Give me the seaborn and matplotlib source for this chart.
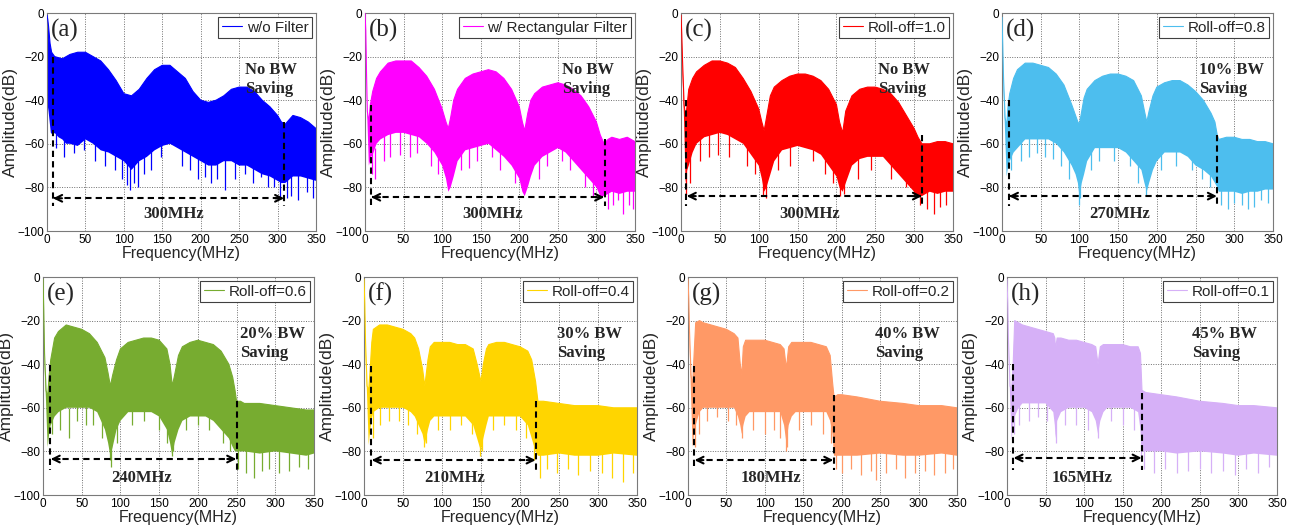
import numpy as np
import pandas as pd
import matplotlib
matplotlib.use("Agg")
import matplotlib.pyplot as plt
import seaborn as sns

# ---------------------------------------------------------------------------
# Spectrum envelopes (frequency in MHz, amplitude in dB)
# up_* : upper edge of the spectrum, lo_* : dense noise floor,
# sp_* : deep downward spikes below the floor
# ---------------------------------------------------------------------------
labels = ["w/o Filter", "w/ Rectangular Filter", "Roll-off=1.0", "Roll-off=0.8",
          "Roll-off=0.6", "Roll-off=0.4", "Roll-off=0.2", "Roll-off=0.1"]
panel_tags = ["(a)", "(b)", "(c)", "(d)", "(e)", "(f)", "(g)", "(h)"]
colors = ["#0000FF", "#FF00FF", "#FF0000", "#4DBEEE",
          "#77AC30", "#FFD500", "#FF9966", "#D6B0F7"]
bandwidths = ["300MHz", "300MHz", "300MHz", "270MHz", "240MHz", "210MHz", "180MHz", "165MHz"]
savings = ["No BW\nSaving", "No BW\nSaving", "No BW\nSaving", "10% BW\nSaving",
           "20% BW\nSaving", "30% BW\nSaving", "40% BW\nSaving", "45% BW\nSaving"]
band_start = [7.5, 7.5, 7.0, 8.5, 9.5, 9.5, 8.0, 8.0]
band_stop = [309, 310.5, 310.5, 278, 250, 220.5, 189.5, 175]
start_top = [-20, -42, -40, -40, -40.5, -41, -41, -40]
stop_top = [-50, -58, -56, -56, -57, -57, -54, -53]
arrow_level = [-85, -84.5, -84, -84, -83.5, -84, -84, -83]
bw_text_x = [165, 166, 166, 152, 127, 116, 108, 97]
saving_x = [258, 255, 253, 255, 254, 248, 243, 240]

# (a) no filter
a_up_f = [0, 1, 2, 4, 6, 8, 10, 20, 30, 40, 50, 60, 70, 80, 90, 100, 110, 120, 130, 140,
          150, 160, 170, 180, 190, 200, 210, 220, 230, 240, 250, 260, 270, 280, 290,
          300, 305, 310, 320, 330, 340, 350]
a_up_db = [-1, -3, -6, -14, -18, -19, -20, -21, -19, -18, -18, -20, -22, -26, -31, -37, -38, -35, -30, -26,
           -24, -24, -27, -30, -36, -40, -41, -40, -38, -35, -34, -34, -36, -40, -43,
           -47, -50, -51, -47, -48, -50, -53]
a_lo_f = [0, 2, 5, 8, 10, 15, 20, 25, 30, 40, 50, 60, 70, 80, 90, 100, 105, 110, 115, 120,
          130, 140, 150, 160, 170, 180, 190, 200, 210, 220, 230, 240, 250, 260, 270,
          280, 290, 300, 305, 310, 320, 330, 340, 350]
a_lo_db = [-40, -45, -55, -56, -55, -57, -58, -60, -60, -61, -58, -60, -63, -64, -66, -68, -70, -72, -70, -68,
           -66, -63, -61, -60, -62, -64, -66, -68, -70, -70, -68, -68, -70, -70, -72,
           -74, -75, -77, -78, -78, -75, -75, -76, -77]
a_sp_f = [12, 22, 35, 48, 62, 75, 88, 97, 104, 108, 113, 118, 126, 135, 148, 176, 186, 196,
          205, 214, 221, 232, 245, 258, 268, 278, 287, 296, 303, 312, 318, 327, 338, 346]
a_sp_db = [-62, -66, -64, -63, -68, -70, -72, -76, -79, -81, -78, -80, -74, -72, -66, -70, -72, -76,
           -75, -78, -76, -81, -76, -74, -78, -75, -80, -80, -85, -85, -84, -86, -82, -85]

# (b) rectangular filter
b_up_f = [0, 1, 2, 3, 5, 7, 10, 15, 20, 30, 40, 50, 60, 70, 80, 90, 100, 105, 108, 111,
          115, 120, 130, 140, 150, 160, 170, 180, 190, 200, 204, 207, 211, 215, 220,
          230, 240, 250, 260, 270, 280, 290, 300, 305, 310, 315, 320, 330, 340, 350]
b_up_db = [0, -8, -28, -45, -50, -42, -36, -30, -27, -23, -22, -22, -22, -25, -29, -35, -44, -50, -53, -48,
           -40, -35, -30, -28, -27, -26, -27, -30, -35, -43, -50, -54, -46, -40, -37,
           -34, -33, -32, -33, -35, -38, -43, -50, -56, -60, -58, -57, -58, -57, -59]
b_lo_f = [0, 1, 2, 3, 5, 8, 10, 15, 20, 30, 40, 50, 60, 70, 80, 90, 100, 105, 108, 111,
          115, 120, 130, 140, 150, 160, 170, 180, 190, 200, 204, 207, 211, 215, 220,
          230, 240, 250, 260, 270, 280, 290, 300, 305, 310, 320, 330, 340, 350]
b_lo_db = [-2, -12, -30, -48, -70, -66, -65, -60, -58, -56, -55, -55, -56, -57, -60, -64, -70, -76, -82, -80,
           -75, -68, -63, -62, -61, -60, -63, -66, -70, -76, -82, -84, -80, -75, -70,
           -66, -64, -62, -64, -68, -72, -76, -80, -84, -84, -82, -83, -82, -82]
b_sp_f = [9, 13, 25, 33, 45, 58, 67, 85, 95, 125, 135, 145, 165, 175, 195, 225, 236, 255,
          266, 285, 295, 315, 322, 328, 335, 342, 347]
b_sp_db = [-74, -76, -68, -66, -65, -66, -64, -70, -74, -72, -71, -68, -66, -72, -78, -76, -70, -68,
           -72, -80, -84, -90, -88, -86, -92, -88, -90]

# (c) roll-off 1.0
c_f = [0, 1, 2, 4, 6, 8, 10, 15, 20, 30, 40, 50, 60, 70, 80, 90, 100, 104, 107, 110,
       115, 120, 130, 140, 150, 160, 170, 180, 190, 200, 204, 208, 212, 220, 230,
       240, 250, 260, 270, 280, 290, 300, 305, 310, 320, 330, 340, 350]
c_up_db = [-1, -10, -22, -42, -48, -42, -35, -30, -27, -24, -22, -22, -23, -25, -30, -36, -44, -50, -54, -48,
           -38, -34, -31, -29, -28, -28, -29, -31, -35, -42, -50, -55, -45, -38, -35,
           -34, -34, -35, -37, -41, -47, -53, -57, -60, -60, -59, -59, -60]
c_lo_db = [-3, -14, -28, -50, -78, -72, -70, -64, -60, -57, -56, -55, -56, -58, -60, -65, -70, -76, -82, -80,
           -74, -68, -63, -62, -61, -62, -63, -65, -70, -75, -80, -82, -78, -70, -67,
           -66, -66, -66, -70, -74, -78, -82, -84, -84, -82, -83, -82, -82]
c_sp_f = [7, 12, 25, 36, 48, 62, 85, 95, 106, 109, 125, 140, 170, 185, 196, 205, 210, 228,
          245, 270, 290, 300, 308, 316, 325, 333, 341]
c_sp_db = [-84, -78, -68, -66, -65, -66, -70, -74, -84, -85, -72, -70, -68, -74, -78, -84, -83, -76,
           -72, -76, -80, -84, -88, -90, -92, -89, -88]

# (d) roll-off 0.8
d_f = [0, 1, 2, 4, 6, 8, 10, 15, 20, 30, 40, 50, 60, 70, 80, 90, 95, 98, 100, 103,
       106, 110, 120, 130, 140, 150, 160, 170, 180, 184, 187, 190, 195, 200, 210,
       220, 230, 240, 250, 260, 270, 275, 278, 280, 290, 300, 310, 320, 330, 340, 350]
d_up_db = [-2, -15, -30, -48, -52, -42, -37, -30, -26, -23, -23, -24, -25, -28, -33, -42, -47, -50, -51, -45,
           -39, -35, -31, -29, -28, -28, -29, -31, -38, -45, -50, -45, -38, -34, -32,
           -31, -31, -33, -36, -40, -46, -50, -56, -58, -57, -57, -58, -58, -59, -59, -60]
d_lo_db = [-4, -20, -35, -55, -75, -70, -68, -64, -62, -58, -58, -58, -58, -60, -64, -70, -74, -78, -84, -78,
           -74, -68, -62, -62, -62, -62, -64, -68, -72, -78, -82, -78, -72, -68, -64,
           -64, -64, -66, -70, -72, -75, -78, -80, -82, -82, -82, -83, -82, -82, -81, -81]
d_sp_f = [12, 24, 35, 45, 55, 66, 76, 86, 99, 101, 115, 125, 145, 165, 176, 186, 205, 225,
          245, 258, 268, 283, 292, 300, 310, 318, 326, 335, 344]
d_sp_db = [-72, -68, -66, -64, -66, -67, -70, -76, -88, -85, -72, -68, -68, -70, -78, -84, -72, -70,
           -72, -76, -80, -88, -90, -87, -88, -90, -89, -86, -87]

# (e) roll-off 0.6
e_f = [0, 1, 2, 4, 6, 8, 10, 15, 20, 30, 40, 50, 60, 70, 80, 84, 87, 90, 95, 100,
       110, 120, 130, 140, 150, 160, 164, 167, 170, 175, 180, 190, 200, 210, 220,
       230, 240, 245, 248, 250, 255, 260, 280, 300, 320, 340, 350]
e_up_db = [-1, -15, -35, -52, -55, -45, -38, -28, -25, -22, -23, -24, -26, -30, -37, -44, -50, -45, -38, -33,
           -30, -29, -28, -28, -29, -33, -40, -50, -45, -36, -32, -30, -29, -30, -31,
           -34, -40, -46, -52, -57, -57, -58, -58, -59, -60, -61, -61]
e_lo_db = [-3, -20, -40, -58, -78, -72, -68, -64, -62, -60, -60, -60, -60, -62, -70, -76, -82, -78, -70, -66,
           -62, -62, -62, -62, -64, -70, -76, -82, -76, -70, -66, -64, -64, -64, -66,
           -70, -74, -78, -80, -80, -80, -80, -81, -80, -81, -82, -81]
e_sp_f = [12, 22, 33, 44, 55, 65, 76, 86, 88, 95, 115, 130, 150, 160, 166, 168, 185, 200,
          215, 232, 242, 252, 262, 272, 283, 292, 305, 318, 330, 342]
e_sp_db = [-72, -70, -74, -66, -68, -68, -74, -84, -87, -76, -68, -66, -70, -76, -82, -80, -70, -68,
           -70, -76, -80, -88, -90, -92, -89, -88, -90, -89, -87, -88]

# (f) roll-off 0.4
f_f = [0, 1, 2, 4, 6, 8, 10, 12, 20, 30, 40, 50, 60, 65, 70, 75, 78, 82, 85, 90,
       100, 110, 120, 130, 140, 145, 150, 153, 157, 160, 170, 180, 190, 200, 210,
       215, 220, 223, 230, 250, 270, 300, 320, 350]
f_up_db = [-1, -12, -30, -50, -52, -42, -30, -24, -22, -22, -23, -24, -26, -28, -33, -42, -50, -38, -32, -30,
           -30, -30, -31, -31, -33, -40, -48, -40, -33, -31, -30, -30, -31, -32, -34,
           -38, -48, -57, -57, -58, -59, -59, -60, -60]
f_lo_db = [-3, -16, -36, -55, -77, -70, -65, -62, -60, -60, -60, -60, -62, -64, -68, -72, -77, -70, -66, -64,
           -64, -64, -64, -64, -68, -74, -80, -74, -68, -64, -64, -64, -64, -64, -68,
           -74, -80, -82, -82, -81, -82, -82, -81, -82]
f_sp_f = [12, 20, 32, 45, 56, 68, 77, 79, 95, 110, 125, 138, 149, 151, 165, 180, 195, 208,
          218, 226, 235, 248, 262, 275, 290, 305, 318, 332, 345]
f_sp_db = [-74, -68, -66, -66, -68, -72, -78, -76, -70, -70, -68, -72, -82, -80, -70, -68, -70, -74,
           -84, -92, -88, -90, -88, -91, -89, -90, -92, -94, -90]

# (g) roll-off 0.2
g_f = [0, 1, 2, 4, 6, 8, 10, 15, 20, 30, 40, 50, 60, 65, 68, 70, 72, 75, 80, 90,
       100, 110, 120, 125, 128, 131, 135, 140, 150, 160, 170, 180, 185, 188, 190,
       195, 200, 220, 250, 280, 300, 330, 350]
g_up_db = [-1, -10, -25, -45, -50, -35, -21, -20, -21, -22, -23, -24, -26, -28, -40, -45, -32, -29, -29, -29,
           -29, -30, -31, -33, -42, -32, -30, -30, -30, -30, -31, -32, -36, -48, -55,
           -54, -54, -55, -57, -58, -59, -59, -60]
g_lo_db = [-3, -14, -30, -55, -78, -72, -68, -62, -60, -60, -60, -60, -60, -64, -68, -72, -68, -64, -62, -62,
           -62, -62, -62, -68, -76, -68, -64, -62, -62, -62, -62, -62, -66, -72, -82,
           -82, -82, -82, -81, -82, -82, -81, -82]
g_sp_f = [9, 14, 25, 38, 52, 62, 70, 85, 100, 112, 120, 127, 129, 145, 160, 175, 186, 192,
          200, 212, 225, 238, 245, 258, 270, 282, 295, 308, 320, 334, 345]
g_sp_db = [-78, -72, -66, -64, -66, -68, -74, -70, -72, -70, -74, -80, -78, -70, -68, -72, -76, -88,
           -90, -88, -91, -89, -93, -90, -88, -92, -90, -89, -91, -90, -88]

# (h) roll-off 0.1
h_f = [0, 1, 2, 4, 6, 8, 10, 15, 20, 30, 40, 50, 60, 62, 63, 65, 70, 80, 90, 100,
       110, 115, 118, 121, 125, 130, 140, 150, 160, 170, 173, 175, 180, 200, 220,
       250, 280, 300, 320, 350]
h_up_db = [-1, -12, -30, -50, -52, -40, -20, -21, -22, -23, -24, -25, -26, -28, -33, -28, -28, -29, -29, -30,
           -31, -32, -40, -32, -31, -31, -31, -31, -32, -32, -35, -52, -53, -54, -55,
           -57, -58, -59, -59, -60]
h_lo_db = [-3, -16, -34, -55, -75, -68, -64, -60, -58, -58, -58, -58, -62, -68, -74, -66, -62, -60, -60, -60,
           -62, -66, -72, -66, -62, -60, -60, -60, -60, -62, -70, -80, -80, -80, -81,
           -80, -81, -82, -81, -82]
h_sp_f = [9, 16, 28, 40, 52, 63, 75, 90, 105, 118, 135, 150, 165, 174, 178, 190, 205, 220,
          235, 250, 265, 280, 295, 310, 325, 340]
h_sp_db = [-72, -68, -66, -64, -66, -76, -68, -68, -70, -74, -66, -68, -70, -82, -88, -90, -88, -90,
           -89, -88, -90, -89, -91, -88, -90, -87]

spectra = [
    (a_up_f, a_up_db, a_lo_f, a_lo_db, a_sp_f, a_sp_db),
    (b_up_f, b_up_db, b_lo_f, b_lo_db, b_sp_f, b_sp_db),
    (c_f, c_up_db, c_f, c_lo_db, c_sp_f, c_sp_db),
    (d_f, d_up_db, d_f, d_lo_db, d_sp_f, d_sp_db),
    (e_f, e_up_db, e_f, e_lo_db, e_sp_f, e_sp_db),
    (f_f, f_up_db, f_f, f_lo_db, f_sp_f, f_sp_db),
    (g_f, g_up_db, g_f, g_lo_db, g_sp_f, g_sp_db),
    (h_f, h_up_db, h_f, h_lo_db, h_sp_f, h_sp_db),
]

# ---------------------------------------------------------------------------
sns.set_theme(style="white")
plt.rcParams["font.family"] = ["Liberation Sans", "DejaVu Sans"]
SERIF = ["Liberation Serif", "DejaVu Serif"]

W, H = 1294, 525
fig = plt.figure(figsize=(W / 100, H / 100), dpi=100)

# axes boxes in pixels: (left, right, top, bottom)
boxes = [(47, 316, 13, 231), (365, 635, 13, 231), (681, 953, 13, 231), (1002, 1273, 13, 231),
         (43, 314, 277, 495), (364, 637, 277, 495), (688, 957, 277, 495), (1007, 1277, 277, 495)]

for i, (uf, ud, lf, ld, sf, sd) in enumerate(spectra):
    l, r, t, b = boxes[i]
    ax = fig.add_axes([l / W, 1 - b / H, (r - l) / W, (b - t) / H])
    col = colors[i]

    ax.set_axisbelow(True)
    ax.grid(True, which="major", linestyle=(0, (1, 1.5)), color="#6f6f6f", lw=0.7)

    # filled body of the spectrum between the top edge and the noise floor
    poly_x = np.r_[np.asarray(uf, float), np.asarray(lf, float)[::-1]]
    poly_y = np.r_[np.asarray(ud, float), np.asarray(ld, float)[::-1]]
    ax.fill(poly_x, poly_y, color=col, lw=0, zorder=2)
    ax.vlines(sf, np.asarray(sd, float), np.asarray(sd, float) + 14, color=col, lw=0.9, zorder=2)
    df = pd.DataFrame({"Frequency": uf, "Amplitude": ud})
    sns.lineplot(data=df, x="Frequency", y="Amplitude", ax=ax, color=col, lw=0.8,
                 estimator=None, sort=False, label=labels[i], zorder=3)

    ax.set_xlim(0, 350)
    ax.set_ylim(-100, 0)
    ax.set_xticks(np.arange(0, 351, 50))
    ax.set_yticks(np.arange(-100, 1, 20))
    for s in ax.spines.values():
        s.set_color("#7a7a7a")
        s.set_linewidth(0.8)
    ax.tick_params(axis="both", labelsize=8.5, direction="in", length=3,
                   color="#7a7a7a", pad=2, labelcolor="black")
    ax.set_xlabel("Frequency(MHz)", fontsize=11.5, labelpad=0)
    ax.set_ylabel("Amplitude(dB)", fontsize=12.5, labelpad=0)

    leg = ax.legend(loc="upper right", fontsize=11, frameon=True, fancybox=False,
                    framealpha=1, edgecolor="#404040", borderaxespad=0.25,
                    handlelength=1.3, handletextpad=0.3, borderpad=0.25)
    leg.get_frame().set_linewidth(0.8)

    # occupied-bandwidth markers
    x0, x1, ya = band_start[i], band_stop[i], arrow_level[i]
    ax.plot([x0, x0], [start_top[i], -88.5], color="black", lw=1.5, ls=(0, (3, 2)), zorder=4)
    ax.plot([x1, x1], [stop_top[i], -88.5], color="black", lw=1.5, ls=(0, (3, 2)), zorder=4)
    ax.plot([x0 + 2, x1 - 2], [ya, ya], color="black", lw=1.5, ls=(0, (3, 2)), zorder=4)
    ax.annotate("", xy=(x0 + 0.5, ya), xytext=(x0 + 12, ya),
                arrowprops=dict(arrowstyle="->", lw=1.5, color="black",
                                mutation_scale=12, shrinkA=0, shrinkB=0), zorder=5)
    ax.annotate("", xy=(x1 - 0.5, ya), xytext=(x1 - 12, ya),
                arrowprops=dict(arrowstyle="->", lw=1.5, color="black",
                                mutation_scale=12, shrinkA=0, shrinkB=0), zorder=5)
    ax.text(bw_text_x[i], -92, bandwidths[i], family=SERIF, fontweight="bold",
            fontsize=12, ha="center", va="center", zorder=5)
    ax.text(saving_x[i], -30.5, savings[i], family=SERIF, fontweight="bold",
            fontsize=12, ha="left", va="center", linespacing=1.3, zorder=5)
    ax.text(5, -8, panel_tags[i], family=SERIF, fontsize=18, ha="left",
            va="center", zorder=5)

fig.savefig("out.png", dpi=100)
